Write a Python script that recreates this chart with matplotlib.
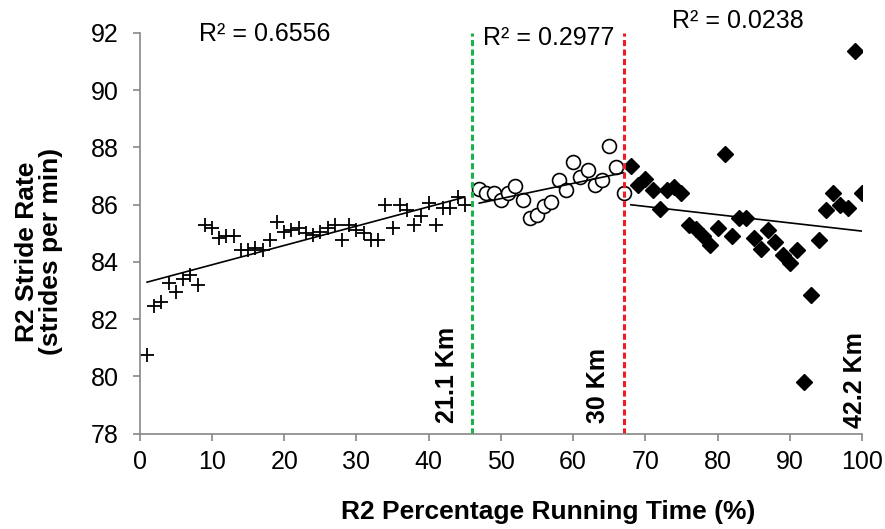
import numpy as np
import matplotlib
matplotlib.use("Agg")
import matplotlib.pyplot as plt

plt.rcParams['font.family'] = ['Liberation Sans', 'DejaVu Sans']

# Segment 1: start to half marathon (plus markers)
x_first = list(range(1, 46))
y_first = [80.75, 82.47, 82.6, 83.27, 82.96, 83.4, 83.55, 83.2, 85.3, 85.2,
           84.85, 84.9, 84.9, 84.4, 84.4, 84.5, 84.4, 84.75, 85.4, 85.05,
           85.1, 85.2, 85.0, 84.95, 85.05, 85.2, 85.3, 84.75, 85.3, 85.1,
           85.0, 84.75, 84.75, 86.0, 85.2, 86.0, 85.8, 85.3, 85.6, 86.05,
           85.3, 85.9, 85.9, 86.27, 86.0]

# Segment 2: 21.1 km to 30 km (open circles)
x_mid = list(range(47, 68))
y_mid = [86.55, 86.4, 86.4, 86.15, 86.4, 86.65, 86.15, 85.55, 85.65, 85.95,
         86.1, 86.85, 86.5, 87.5, 86.95, 87.2, 86.7, 86.85, 88.05, 87.3, 86.4]

# Segment 3: 30 km to finish (filled diamonds)
x_last = list(range(68, 101))
y_last = [87.36, 86.7, 86.9, 86.5, 85.85, 86.5, 86.6, 86.4, 85.3, 85.15,
          84.9, 84.6, 85.2, 87.77, 84.9, 85.55, 85.55, 84.85, 84.45, 85.1,
          84.7, 84.25, 83.95, 84.4, 79.8, 82.85, 84.75, 85.8, 86.4, 86.0,
          85.9, 91.35, 86.4]

r2_labels = ["R² = 0.6556", "R² = 0.2977", "R² = 0.0238"]
split_x = [46, 67]
km_labels = ["21.1 Km", "30 Km", "42.2 Km"]
km_pos = [42.5, 63.4, 99.0]

FS = 18

fig = plt.figure(figsize=(8.85, 5.29), dpi=100)
ax = fig.add_axes([0.158, 0.18, 0.816, 0.758])

ax.plot(x_first, y_first, linestyle='none', marker='+', ms=10, mew=1.3, color='black')
ax.plot(x_mid, y_mid, linestyle='none', marker='o', ms=10, mfc='white', mec='black', mew=1.2)
ax.plot(x_last, y_last, linestyle='none', marker='D', ms=8, color='black')

# linear trend lines per segment
for xs, ys in [(x_first, y_first), (x_mid, y_mid), (x_last, y_last)]:
    xs = np.array(xs, dtype=float)
    k, b = np.polyfit(xs, ys, 1)
    ax.plot([xs[0], xs[-1]], [k * xs[0] + b, k * xs[-1] + b], color='black', lw=1.2)

ax.axvline(split_x[0], color='#1bb24b', ls=(0, (2, 1.1)), lw=2.2)
ax.axvline(split_x[1], color='#ee1c24', ls=(0, (2, 1.1)), lw=2.2)

ax.text(17.3, 91.97, r2_labels[0], fontsize=FS, ha='center', va='center')
ax.text(47.5, 91.83, r2_labels[1], fontsize=FS, ha='left', va='center')
ax.text(82.8, 92.4, r2_labels[2], fontsize=FS, ha='center', va='center')

for lab, xp, yb in zip(km_labels, km_pos, [78.38, 78.38, 78.2]):
    ax.text(xp, yb, lab, rotation=90, fontsize=FS, fontweight='bold',
            ha='center', va='bottom')

ax.set_xlim(0, 100)
ax.set_ylim(78, 92)
ax.set_xticks(np.arange(0, 101, 10))
ax.set_yticks(np.arange(78, 93, 2))
ax.tick_params(labelsize=FS, color='#888888', length=5, width=1.2, direction='out')
ax.tick_params(axis='y', pad=10)
ax.tick_params(axis='x', pad=7)
for s in ['top', 'right']:
    ax.spines[s].set_visible(False)
for s in ['left', 'bottom']:
    ax.spines[s].set_color('#888888')
    ax.spines[s].set_linewidth(1.2)

ax.set_xlabel('R2 Percentage Running Time (%)', fontsize=19, fontweight='bold')
ax.set_ylabel('R2 Stride Rate\n(strides per min)', fontsize=19, fontweight='bold',
              linespacing=1.0)
ax.xaxis.set_label_coords(0.565, -0.165)
ax.yaxis.set_label_coords(-0.107, 0.455)

fig.savefig('out.png', dpi=100)
